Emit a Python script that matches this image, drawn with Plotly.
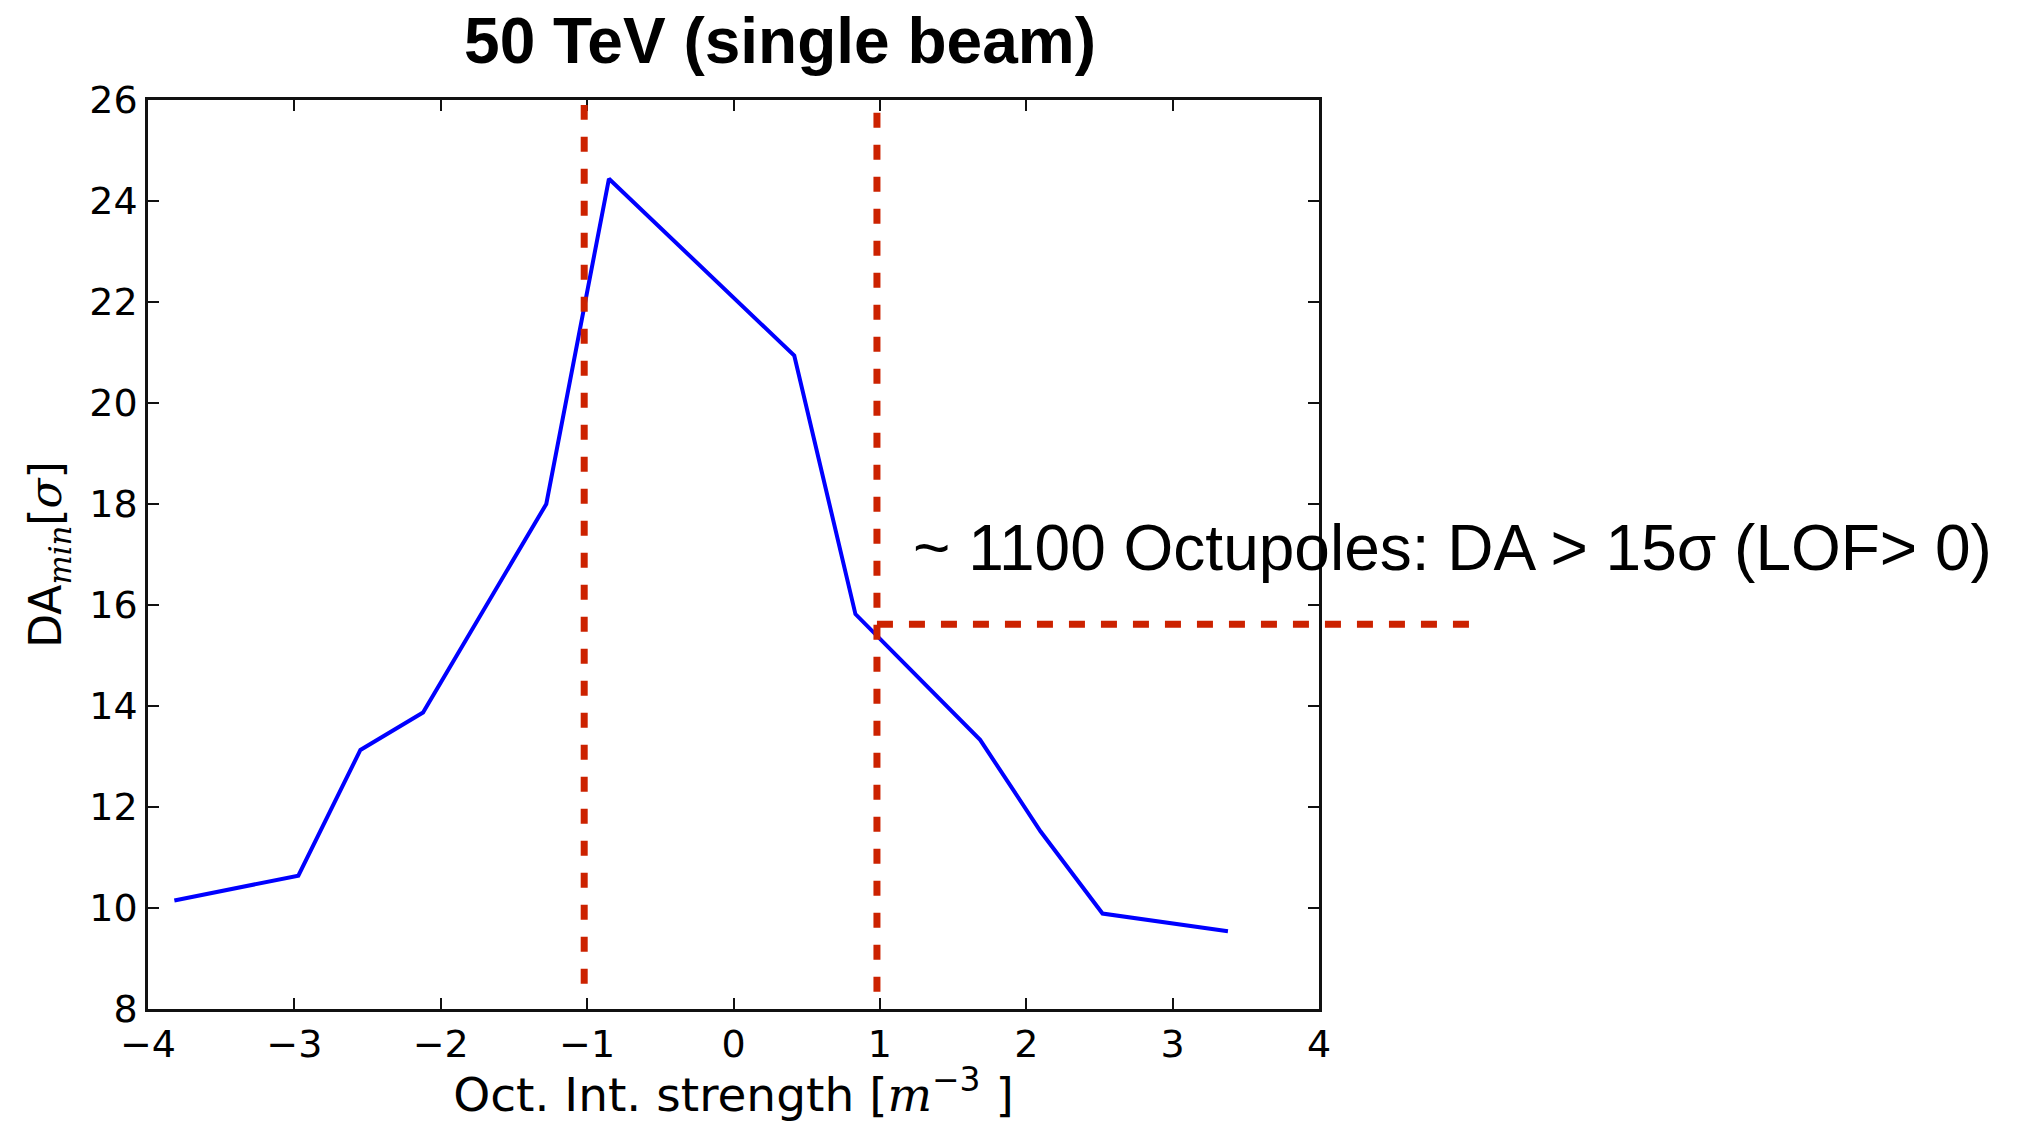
import plotly.graph_objects as go

# Data
oct_strength = [-3.82, -2.973, -2.549, -2.121, -1.279, -0.851, 0.415, 0.833, 1.685, 2.097, 2.521, 3.378]
da_min = [10.15, 10.64, 13.13, 13.87, 18.0, 24.44, 20.94, 15.82, 13.33, 11.52, 9.89, 9.54]

vline_x = [-1.02, 0.98]
vline_y0 = [8.5, 8.34]
vline_y1 = [25.9, 25.76]
hline_y = 15.62
hline_x0 = 0.98
hline_x1_paper = 1.129

x_range = [-4, 4]
y_range = [8, 26]
x_ticks = [-4, -3, -2, -1, 0, 1, 2, 3, 4]
y_ticks = [8, 10, 12, 14, 16, 18, 20, 22, 24, 26]

title_text = "<b>50 TeV (single beam)</b>"
x_title = 'Oct. Int. strength [<span style="font-family:DejaVu Serif"><i>m</i></span><sup>−3</sup> ]'
y_title = 'DA<sub><span style="font-family:DejaVu Serif"><i>min</i></span></sub>[<span style="font-family:DejaVu Serif"><i>σ</i></span>]'
note_text = "~ 1100 Octupoles: DA > 15σ (LOF> 0)"

RED = "rgb(204,34,0)"

fig = go.Figure()
fig.add_trace(go.Scatter(x=oct_strength, y=da_min, mode="lines",
                         line=dict(color="#0000FF", width=4), showlegend=False))

shapes = []
for xv, y0, y1 in zip(vline_x, vline_y0, vline_y1):
    shapes.append(dict(type="line", xref="x", yref="y", x0=xv, x1=xv, y0=y0, y1=y1,
                       line=dict(color=RED, width=7, dash="15px,17px")))
hx0 = (hline_x0 - x_range[0]) / (x_range[1] - x_range[0])
shapes.append(dict(type="line", xref="paper", yref="y", x0=hx0, x1=hline_x1_paper,
                   y0=hline_y, y1=hline_y,
                   line=dict(color=RED, width=7, dash="16px,16px")))

axis_common = dict(showgrid=False, zeroline=False, showline=True, linecolor="#111",
                   linewidth=2.5, mirror="ticks", ticks="inside", ticklen=11,
                   tickwidth=1.5, tickcolor="#111",
                   tickfont=dict(family="DejaVu Sans", size=38, color="black"))

fig.update_layout(
    width=2023, height=1122,
    margin=dict(l=148, r=704, t=100, b=113),
    paper_bgcolor="white", plot_bgcolor="white",
    title=dict(text=title_text, font=dict(family="Liberation Sans", size=64, color="black"),
               xref="paper", x=0.5397, xanchor="center",
               yref="container", y=0.964, yanchor="middle"),
    xaxis=dict(range=x_range, tickvals=x_ticks, ticktext=[str(v).replace("-", "−") for v in x_ticks],
               title=dict(text=x_title, font=dict(family="DejaVu Sans", size=47, color="black"), standoff=10),
               **axis_common),
    yaxis=dict(range=y_range, tickvals=y_ticks,
               title=dict(text=y_title, font=dict(family="DejaVu Sans", size=44, color="black"), standoff=14),
               **axis_common),
    shapes=shapes,
    annotations=[dict(text=note_text, xref="paper", yref="y", x=1.1136, y=17.13,
                      xanchor="center", yanchor="middle", showarrow=False,
                      font=dict(family="Liberation Sans", size=64, color="black"))],
)

fig.write_html("out.html")
